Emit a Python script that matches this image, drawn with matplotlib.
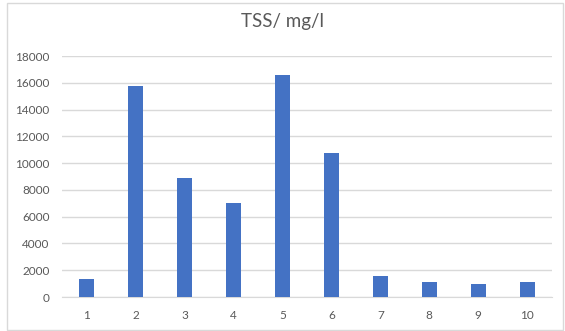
import matplotlib
matplotlib.use("Agg")
import matplotlib.pyplot as plt
from matplotlib.patches import Rectangle

# data
samples = ["1", "2", "3", "4", "5", "6", "7", "8", "9", "10"]
tss = [1370, 15780, 8880, 7050, 16560, 10750, 1570, 1150, 950, 1150]
yticks = [0, 2000, 4000, 6000, 8000, 10000, 12000, 14000, 16000, 18000]

BAR = "#4472C4"
GRID = "#D9D9D9"
TEXT = "#595959"

plt.rcParams["font.family"] = ["Lato", "DejaVu Sans"]

fig = plt.figure(figsize=(5.65, 3.31), dpi=100)
ax = fig.add_axes([0.1097, 0.1027, 0.8668, 0.7281])

x = range(len(samples))
ax.bar(x, tss, width=0.31, color=BAR, zorder=3)

ax.set_xlim(-0.5, len(samples) - 0.5)
ax.set_ylim(0, 18000)
ax.set_yticks(yticks)
ax.set_xticks(list(x))
ax.set_xticklabels(samples)
ax.yaxis.grid(True, color=GRID, linewidth=1)
ax.set_axisbelow(True)
ax.tick_params(axis="both", length=0, labelsize=8.5, colors=TEXT)
ax.tick_params(axis="x", pad=9)
ax.tick_params(axis="y", pad=9)
for s in ["top", "right", "left"]:
    ax.spines[s].set_visible(False)
ax.spines["bottom"].set_color(GRID)

fig.text(0.5, 0.935, "TSS/ mg/l", ha="center", va="center", fontsize=13.5, color=TEXT)

# chart border
fig.patches.append(Rectangle((7 / 565, 1 / 331), 556 / 565, 327 / 331,
                             transform=fig.transFigure, fill=False,
                             edgecolor=GRID, linewidth=1))

fig.savefig("out.png", dpi=100)
